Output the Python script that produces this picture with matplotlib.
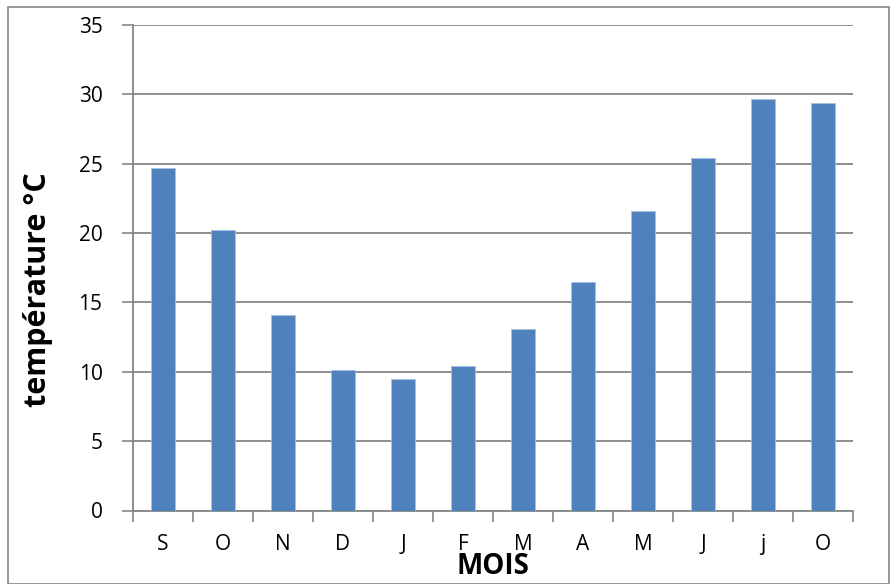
import matplotlib.pyplot as plt
from matplotlib.patches import Rectangle

# mois et temperatures moyennes
mois = ['S', 'O', 'N', 'D', 'J', 'F', 'M', 'A', 'M', 'J', 'j', 'O']
temperatures = [24.7, 20.2, 14.1, 10.1, 9.5, 10.4, 13.1, 16.5, 21.6, 25.4, 29.7, 29.4]
yticks = [0, 5, 10, 15, 20, 25, 30, 35]

plt.rcParams['font.family'] = ['Open Sans', 'DejaVu Sans']

W, H = 892, 584
fig = plt.figure(figsize=(W / 100, H / 100), dpi=100)
ax = fig.add_axes([133 / W, 1 - 510.5 / H, (853 - 133) / W, (510.5 - 25) / H])

x = list(range(len(mois)))
ax.bar(x, temperatures, width=0.4, color='#4F81BD', edgecolor='#a9c1e0', linewidth=0.6, zorder=3)

ax.set_xlim(-0.5, len(mois) - 0.5)
ax.set_ylim(0, 35)
ax.set_yticks(yticks)
ax.set_xticks(x)
ax.set_xticklabels(mois, fontsize=15)
ax.tick_params(axis='y', labelsize=15, length=8, width=1.2, color='#868686', pad=14)
ax.tick_params(axis='x', length=0, pad=17)
# petites graduations entre les categories
ax.set_xticks([i - 0.5 for i in range(len(mois) + 1)], minor=True)
ax.tick_params(axis='x', which='minor', length=8, width=1.2, color='#868686')

ax.grid(axis='y', color='#868686', linewidth=1.3, zorder=0)
for s in ['top', 'right']:
    ax.spines[s].set_visible(False)
for s in ['left', 'bottom']:
    ax.spines[s].set_color('#868686')
    ax.spines[s].set_linewidth(1.3)

fig.text(38 / W, 1 - 290 / H, 'température °C', fontsize=22, fontweight='bold',
         rotation=90, ha='center', va='center')
fig.text(493 / W, 1 - 566 / H, 'MOIS', fontsize=20, fontweight='bold', ha='center', va='center')

fig.patches.append(Rectangle((8 / W, 0), (889 - 8) / W, 1 - 7 / H, transform=fig.transFigure,
                             fill=False, edgecolor='#868686', linewidth=1.2))

fig.savefig('out.png', dpi=100)
